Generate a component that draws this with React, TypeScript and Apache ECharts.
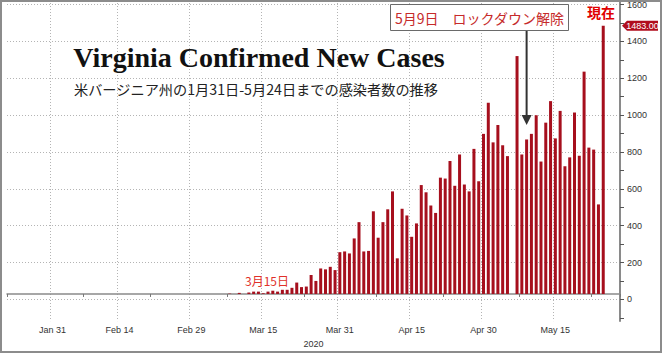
import React, { useEffect, useRef } from 'react';
import * as echarts from 'echarts';

// ---- data ----
const monthSpans: [string, number, number][] = [
  ['Jan', 22, 31],
  ['Feb', 1, 29],
  ['Mar', 1, 31],
  ['Apr', 1, 30],
  ['May', 1, 28],
];
const categories: string[] = [];
for (const [m, a, b] of monthSpans) for (let d = a; d <= b; d++) categories.push(`${m} ${d}`);

const labelDates = ['Jan 31', 'Feb 14', 'Feb 29', 'Mar 15', 'Mar 31', 'Apr 15', 'Apr 30', 'May 15'];
const tickDates = ['Jan 22', 'Feb 7', 'Feb 21', 'Mar 8', 'Mar 24', 'Apr 8', 'Apr 22', 'May 8', 'May 23'];

const firstDate = 'Mar 8';
const newCases = [
  2, 0, 6, 0, 8, 13, 13, 4, 13, 18,
  13, 23, 23, 34, 63, 38, 41, 105, 72, 141,
  136, 150, 132, 231, 235, 224, 307, 397, 235, 238,
  457, 311, 397, 468, 567, 197, 471, 434, 316, 390,
  602, 562, 489, 448, 643, 638, 735, 598, 771, 605,
  567, 802, 623, 885, 1057, 838, 934, 822, 762, 0,
  1315, 771, 854, 885, 988, 732, 947, 1066, 860, 1012,
  706, 755, 1003, 764, 1229, 809, 798, 495, 1483,
];
const yTicks = [0, 200, 400, 600, 800, 1000, 1200, 1400, 1600];
const lastValue = 1483;
const lockdownDate = 'May 9';

const titleText = 'Virginia Confirmed New Cases';
const subtitleText = '米バージニア州の1月31日-5月24日までの感染者数の推移';
const noteText = '5月9日　ロックダウン解除';

export default function App() {
  const ref = useRef<HTMLDivElement>(null);
  useEffect(() => {
    const el = ref.current!;
    const chart = echarts.init(el, null, { renderer: 'svg' });
    const labelSet = new Set(labelDates);
    const tickSet = new Set(tickDates);
    const start = categories.indexOf(firstDate);
    const barData = newCases.map((v, i) => [categories[start + i], v]);

    const W = 662, H = 353;
    const gL = 7, gR = 42, gTop = 0, gBot = 26;
    const aMin = -150, aMax = 1625;
    const plotH = H - gTop - gBot;
    const yOf = (v: number) => gTop + ((aMax - v) / (aMax - aMin)) * plotH;

    const sansAxis = '"Liberation Sans", Arial, sans-serif';
    chart.setOption({
      animation: false,
      grid: [
        { left: gL, right: gR, top: gTop, bottom: gBot },
        { left: gL, right: gR, top: yOf(1600), bottom: H - yOf(-100) },
        { left: gL, right: gR, top: yOf(1600), bottom: H - yOf(0) },
      ],
      xAxis: [
        {
          type: 'category',
          gridIndex: 0,
          data: categories,
          boundaryGap: true,
          axisLine: { lineStyle: { color: '#8a8a8a', width: 1.5 } },
          axisTick: {
            show: true,
            interval: (i: number, v: string) => tickSet.has(v),
            length: 3,
            lineStyle: { color: '#777' },
          },
          axisLabel: {
            interval: (i: number, v: string) => labelSet.has(v),
            fontSize: 9,
            color: '#333',
            fontFamily: sansAxis,
            margin: 4,
          },
          splitLine: {
            show: true,
            interval: (i: number, v: string) => labelSet.has(v),
            lineStyle: { color: '#b4b4b4', type: [1, 2], width: 1 },
          },
          name: '2020',
          nameLocation: 'middle',
          nameGap: 14,
          nameTextStyle: { fontSize: 9, color: '#333', fontFamily: sansAxis },
        },
        { type: 'value', gridIndex: 1, show: false, min: 0, max: 1 },
        { type: 'value', gridIndex: 2, show: false, min: 0, max: 1 },
      ],
      yAxis: [
        {
          type: 'value',
          gridIndex: 0,
          position: 'right',
          min: aMin,
          max: aMax,
          axisLine: { show: true, onZero: false, lineStyle: { color: '#8a8a8a', width: 2 } },
          axisTick: { show: false },
          axisLabel: { show: false },
          splitLine: { show: false },
        },
        {
          type: 'value',
          gridIndex: 1,
          position: 'right',
          min: -100,
          max: 1600,
          interval: 100,
          axisLine: { show: false, onZero: false },
          axisTick: { show: true, length: 4, lineStyle: { color: '#555' } },
          axisLabel: {
            formatter: (v: number) => (v >= 0 && v % 200 === 0 ? String(v) : ''),
            fontSize: 9,
            color: '#333',
            fontFamily: '"Liberation Sans Narrow", "Liberation Sans", Arial, sans-serif',
            margin: 7,
          },
          splitLine: { show: false },
        },
        {
          type: 'value',
          gridIndex: 2,
          min: yTicks[0],
          max: yTicks[yTicks.length - 1],
          interval: yTicks[1] - yTicks[0],
          axisLine: { show: false, onZero: false },
          axisTick: { show: false },
          axisLabel: { show: false },
          splitLine: { show: true, lineStyle: { color: '#b4b4b4', type: [1, 2], width: 1 } },
        },
      ],
      series: [
        {
          type: 'bar',
          xAxisIndex: 0,
          yAxisIndex: 0,
          data: barData,
          barWidth: 3,
          itemStyle: { color: '#a60f1d' },
        },
      ],
    });

    const tagY = chart.convertToPixel({ yAxisIndex: 0 }, lastValue) as number;
    const ax = chart.convertToPixel({ xAxisIndex: 0 }, lockdownDate) as number;
    const axisX = W - gR;

    chart.setOption({
      graphic: [
        {
          type: 'rect',
          shape: { x: 1, y: 1, width: W - 2, height: H - 2 },
          style: { fill: 'none', stroke: '#8c8c8c', lineWidth: 2 },
          silent: true,
        },
        {
          type: 'text',
          style: {
            text: titleText,
            x: 259,
            y: 57,
            align: 'center',
            verticalAlign: 'middle',
            fontSize: 28,
            fontWeight: 'bold',
            fontFamily: '"Liberation Serif", "DejaVu Serif", serif',
            fill: '#111',
          },
        },
        {
          type: 'text',
          style: {
            text: subtitleText,
            x: 256,
            y: 89,
            align: 'center',
            verticalAlign: 'middle',
            fontSize: 14.2,
            fontFamily: '"Noto Sans CJK JP", sans-serif',
            fill: '#222',
          },
        },
        {
          type: 'rect',
          shape: { x: 390.5, y: 4.5, width: 178, height: 26 },
          style: { fill: '#fff', stroke: '#6a6a6a', lineWidth: 1 },
        },
        {
          type: 'text',
          style: {
            text: noteText,
            x: 479.5,
            y: 18,
            align: 'center',
            verticalAlign: 'middle',
            fontSize: 14,
            fontFamily: '"Noto Sans CJK JP", sans-serif',
            fill: '#c62a2a',
          },
        },
        {
          type: 'line',
          shape: { x1: ax, y1: 31, x2: ax, y2: 117 },
          style: { stroke: '#333', lineWidth: 2 },
        },
        {
          type: 'polygon',
          shape: { points: [[ax - 5, 115], [ax + 5, 115], [ax, 125]] },
          style: { fill: '#333' },
        },
        {
          type: 'text',
          style: {
            text: '現在',
            x: 601,
            y: 12,
            align: 'center',
            verticalAlign: 'middle',
            fontSize: 14,
            fontWeight: 'bold',
            fontFamily: '"Noto Sans CJK JP", sans-serif',
            fill: '#e00000',
          },
        },
        {
          type: 'text',
          style: {
            text: '3月15日',
            x: 267,
            y: 280,
            align: 'center',
            verticalAlign: 'middle',
            fontSize: 12,
            fontFamily: '"Noto Sans CJK JP", sans-serif',
            fill: '#e0312a',
          },
        },
        {
          type: 'polygon',
          shape: {
            points: [
              [axisX + 2, tagY],
              [axisX + 7, tagY - 5],
              [axisX + 38, tagY - 5],
              [axisX + 38, tagY + 5],
              [axisX + 7, tagY + 5],
            ],
          },
          style: { fill: '#b00d1d' },
        },
        {
          type: 'text',
          style: {
            text: lastValue.toFixed(2),
            x: axisX + 22.5,
            y: tagY,
            align: 'center',
            verticalAlign: 'middle',
            fontSize: 9,
            fontFamily: '"Liberation Sans Narrow", "Liberation Sans", Arial, sans-serif',
            fill: '#fff',
          },
        },
      ],
    });

    return () => chart.dispose();
  }, []);
  return (
    <div
      ref={ref}
      style={{ position: 'fixed', left: 0, top: 0, width: 662, height: 353, background: '#fff' }}
    />
  );
}
